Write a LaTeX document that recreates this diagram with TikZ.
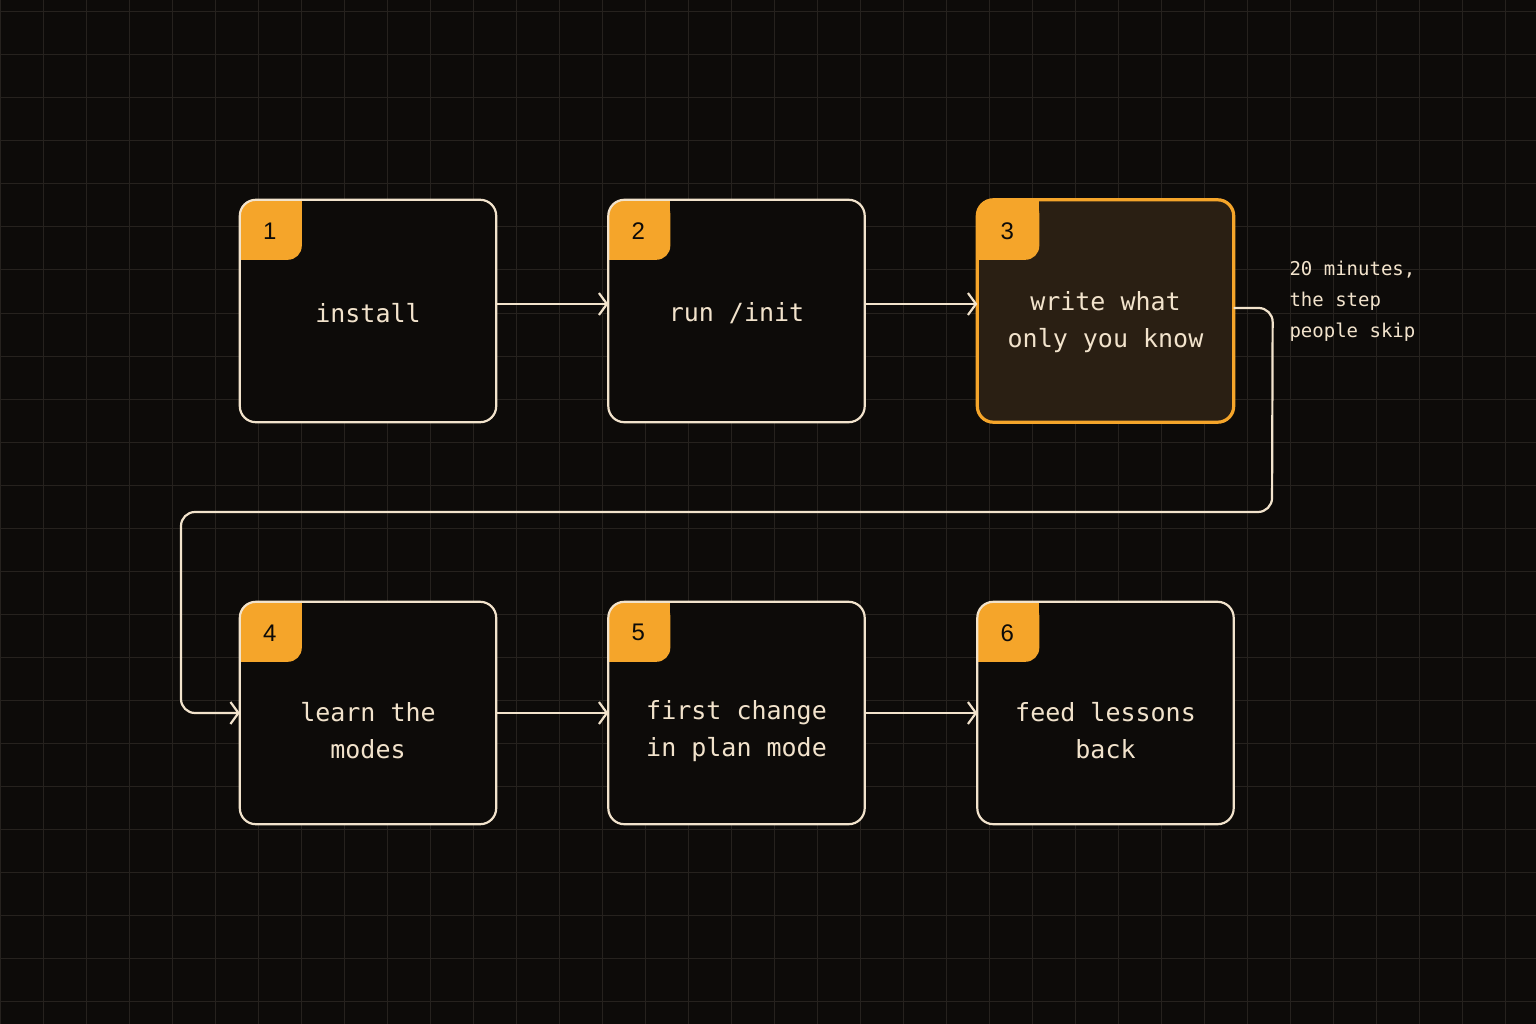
\documentclass[tikz,border=0pt]{standalone}
\usepackage{fontspec}
\setmainfont{DejaVu Sans Mono}
\newfontfamily\badgefont{Liberation Sans}
\usetikzlibrary{positioning,arrows.meta}
\definecolor{bgdark}{HTML}{0D0B09}
\definecolor{gridline}{HTML}{26221E}
\definecolor{cream}{HTML}{F2E3CC}
\definecolor{amber}{HTML}{F5A52A}
\definecolor{amberdark}{HTML}{2A1F13}
\tikzset{
  stepbox/.style={draw=none, rounded corners=16pt, fill=bgdark,
    minimum width=256pt, minimum height=222pt, inner sep=0pt},
  hotbox/.style={stepbox, fill=amberdark},
  rim/.style={draw=cream, line width=2.2pt, rounded corners=16pt},
  hotrim/.style={rim, draw=amber, line width=3.2pt},
  label/.style={text=cream, font=\fontsize{25}{37}\selectfont, align=center},
  flow/.style={draw=cream, line width=2.2pt, rounded corners=14pt,
    -{Straight Barb[length=8pt,width=22pt,line width=2.2pt]}},
}
\newcommand{\badge}[3]{%
  \fill[amber, rounded corners=14pt] (#1.north west) rectangle ++(62,60);
  \fill[amber] ([xshift=40pt]#1.north west) rectangle ++(22,22);
  \fill[amber] ([yshift=-38pt]#1.north west) rectangle ++(22,22);
  \draw[#3] (#1.north west) rectangle (#1.south east);
  \node[text=bgdark, font=\badgefont\fontsize{24}{24}\selectfont] at ([xshift=30pt,yshift=-31pt]#1.north west) {#2};}

\begin{document}
\begin{tikzpicture}[x=1pt,y=-1pt]
\fill[bgdark] (0,0) rectangle (1536,1024);
\useasboundingbox (0,0) rectangle (1536,1024);
\foreach \g in {0,43,...,1536} \draw[gridline, line width=1pt] (\g,0) -- (\g,1024);
\foreach \g in {12,55,...,1024} \draw[gridline, line width=1pt] (0,\g) -- (1536,\g);

% boxes
\node[stepbox] (install) at (368,311) {};
\node[stepbox] (init) at (736.5,311) {};
\node[hotbox] (write) at (1105.5,311) {};
\node[stepbox] (modes) at (368,713) {};
\node[stepbox] (plan) at (736.5,713) {};
\node[stepbox] (feed) at (1105.5,713) {};

% badges
\badge{install}{1}{rim}
\badge{init}{2}{rim}
\badge{write}{3}{hotrim}
\badge{modes}{4}{rim}
\badge{plan}{5}{rim}
\badge{feed}{6}{rim}

% texts
\node[label] at ([yshift=-2pt]install) {install};
\node[label] at ([yshift=-2pt]init) {run /init};
\node[label] at ([yshift=-11pt]write) {write what\\only you know};
\node[label] at ([yshift=-18pt]modes) {learn the\\modes};
\node[label] at ([yshift=-18pt]plan) {first change\\in plan mode};
\node[label] at ([yshift=-18pt]feed) {feed lessons\\back};
\node[text=cream, font=\fontsize{19}{31}\selectfont, align=left, anchor=north west] (note) at (1286,258) {20 minutes,\\the step\\people skip};

% arrows
\draw[flow] ([yshift=7pt]install.east) -- ([yshift=7pt]init.west);
\draw[flow] ([yshift=7pt]init.east) -- ([yshift=7pt]write.west);
\draw[flow] (modes.east) -- (plan.west);
\draw[flow] (plan.east) -- (feed.west);
\coordinate (turnR) at (1272,512);
\coordinate (turnL) at (181,512);
\draw[flow] ([yshift=3pt]write.east) -- ++(39,0) -- (turnR) -- (turnL) |- (modes.west);
\end{tikzpicture}
\end{document}
